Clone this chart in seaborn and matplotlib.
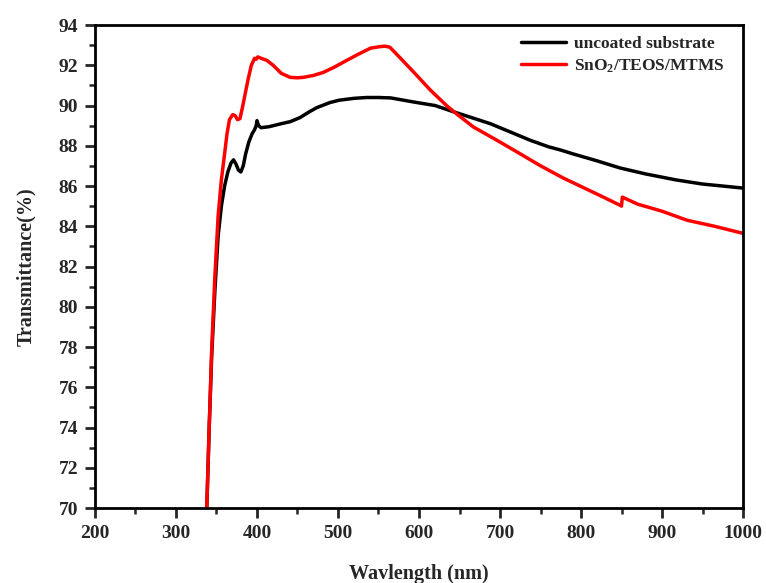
import numpy as np
import pandas as pd
import matplotlib
matplotlib.use("Agg")
import matplotlib.pyplot as plt
import seaborn as sns
from matplotlib.ticker import MultipleLocator

# ---- data ----
wl_uncoated = [338, 341, 344, 348, 352, 356, 360, 364, 368, 371, 374, 377, 380, 383, 386,
               390, 394, 397, 399, 400, 402, 405, 415, 430, 441, 453, 465, 474, 490, 502,
               520, 535, 550, 565, 593, 620, 642, 665, 688, 712, 737, 760, 774, 790, 820,
               848, 880, 918, 950, 975, 1000]
T_uncoated = [70, 74, 77.5, 80.8, 83.5, 85.0, 86.0, 86.7, 87.15, 87.3, 87.1, 86.8, 86.7, 87.0, 87.6,
              88.2, 88.6, 88.8, 89.0, 89.25, 89.0, 88.9, 88.95, 89.1, 89.2, 89.4, 89.7, 89.9, 90.15, 90.27,
              90.36, 90.4, 90.4, 90.38, 90.18, 90.0, 89.7, 89.4, 89.1, 88.7, 88.28, 87.95, 87.8, 87.6, 87.25,
              86.9, 86.6, 86.3, 86.1, 86.0, 85.9]

wl_coated = [338, 341, 344, 348, 352, 356, 360, 363, 366, 370, 373, 376, 379, 382, 385,
             389, 393, 397, 399, 401, 405, 412, 420, 430, 441, 450, 457, 470, 482, 495,
             511, 525, 540, 552, 558, 564, 576, 593, 614, 634, 646, 667, 696, 725, 749,
             778, 800, 825, 848, 850, 851, 870, 900, 931, 965, 1000]
T_coated = [70, 74, 77.8, 81.5, 84.5, 86.3, 87.6, 88.6, 89.3, 89.55, 89.5, 89.3, 89.35, 89.9, 90.5,
            91.3, 92.0, 92.35, 92.3, 92.42, 92.35, 92.25, 92.0, 91.6, 91.4, 91.38, 91.4, 91.5, 91.65, 91.9,
            92.25, 92.55, 92.85, 92.93, 92.95, 92.9, 92.4, 91.68, 90.77, 90.0, 89.6, 88.94, 88.28, 87.6, 87.03,
            86.4, 85.98, 85.5, 85.05, 85.0, 85.45, 85.1, 84.75, 84.3, 84.0, 83.65]

series_names = ["uncoated substrate", "SnO$_2$/TEOS/MTMS"]
series_colors = ["#000000", "#ff0000"]

df = pd.concat([
    pd.DataFrame({"Wavelength": wl_uncoated, "T": T_uncoated, "Sample": series_names[0]}),
    pd.DataFrame({"Wavelength": wl_coated, "T": T_coated, "Sample": series_names[1]}),
], ignore_index=True)

sns.set_style("ticks")
plt.rcParams["font.family"] = ["Liberation Serif", "DejaVu Serif"]
plt.rcParams["font.weight"] = "bold"
plt.rcParams["mathtext.fontset"] = "custom"
plt.rcParams["mathtext.rm"] = "Liberation Serif:bold"
plt.rcParams["mathtext.it"] = "Liberation Serif:bold"
plt.rcParams["mathtext.bf"] = "Liberation Serif:bold"

fig = plt.figure(figsize=(7.66, 5.83), dpi=100)
ax = fig.add_axes([0.124, 0.1286, 0.846, 0.8284])

sns.lineplot(data=df, x="Wavelength", y="T", hue="Sample", palette=series_colors,
             estimator=None, sort=False, linewidth=2.5, ax=ax)

ax.set_xlim(200, 1000)
ax.set_ylim(70, 94)
ax.xaxis.set_major_locator(MultipleLocator(100))
ax.xaxis.set_minor_locator(MultipleLocator(50))
ax.yaxis.set_major_locator(MultipleLocator(2))
ax.yaxis.set_minor_locator(MultipleLocator(1))

for s in ax.spines.values():
    s.set_visible(True)
    s.set_linewidth(2)
    s.set_color("black")

ax.tick_params(which="major", direction="out", length=7, width=2, labelsize=14,
               top=False, right=False, pad=5)
ax.tick_params(which="minor", direction="out", length=4, width=1.8,
               top=False, right=False)
for lab in ax.get_xticklabels() + ax.get_yticklabels():
    lab.set_fontweight("bold")

ax.set_xlabel("Wavlength (nm)", fontsize=14.5, fontweight="bold", labelpad=16)
ax.set_ylabel("Transmittance(%)", fontsize=14.5, fontweight="bold", labelpad=16)

leg = ax.legend(loc="upper right", frameon=False, handlelength=2.6,
                handletextpad=0.45, labelspacing=0.3, bbox_to_anchor=(0.996, 1.01),
                prop={"weight": "bold", "size": 12.5})
for line in leg.get_lines():
    line.set_linewidth(2.5)

fig.savefig("out.png", dpi=100)
